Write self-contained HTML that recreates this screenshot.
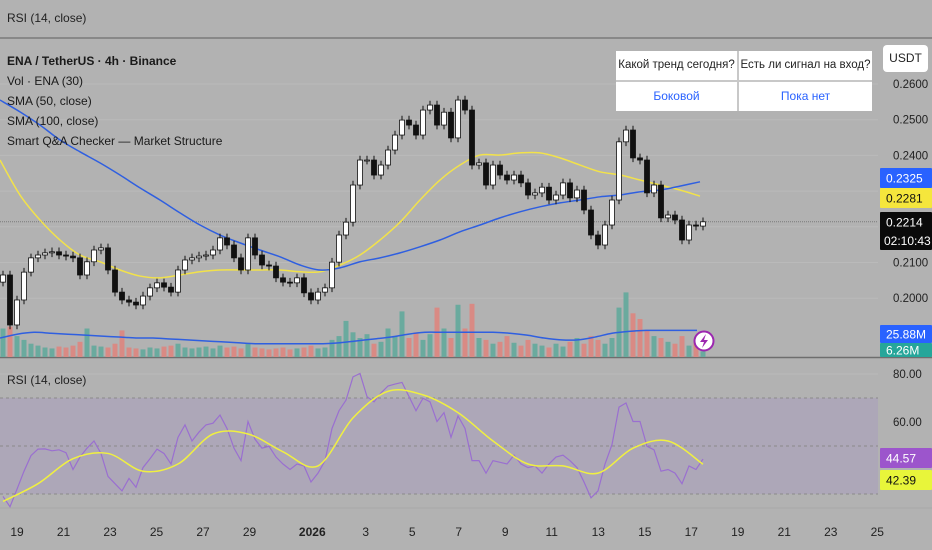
<!DOCTYPE html>
<html><head><meta charset="utf-8">
<style>
html,body{margin:0;padding:0;background:#b2b2b2;}
body{width:932px;height:550px;overflow:hidden;position:relative;font-family:"Liberation Sans","Noto Sans CJK SC",sans-serif;}
svg{position:absolute;left:0;top:0;}
.t{font-family:"Liberation Sans","Noto Sans CJK SC",sans-serif;}
</style></head>
<body>
<svg id="chart" width="932" height="550"></svg>
<script>
// ---- data ----
const closes=[0.2065,0.1925,0.1995,0.2073,0.2113,0.2121,0.2127,0.2130,0.2121,0.2118,0.2113,0.2065,0.2102,0.2135,0.2141,0.2079,0.2017,0.1995,0.1989,0.1981,0.2006,0.2029,0.2043,0.2031,0.2017,0.2079,0.2107,0.2113,0.2118,0.2121,0.2135,0.2169,0.2149,0.2113,0.2079,0.2169,0.2121,0.2093,0.2090,0.2057,0.2045,0.2043,0.2057,0.2015,0.1995,0.2017,0.2029,0.2101,0.2177,0.2213,0.2317,0.2387,0.2387,0.2345,0.2373,0.2415,0.2457,0.2499,0.2485,0.2457,0.2527,0.2541,0.2485,0.2521,0.2449,0.2555,0.2527,0.2373,0.2379,0.2317,0.2373,0.2345,0.2331,0.2345,0.2323,0.2289,0.2295,0.2311,0.2275,0.2289,0.2323,0.2281,0.2303,0.2247,0.2177,0.2149,0.2205,0.2275,0.2438,0.2471,0.2393,0.2387,0.2295,0.2317,0.2225,0.2233,0.2219,0.2163,0.2205,0.2202,0.2214];
const volumes=[30,32,22,18,14,12,10,9,11,10,12,16,30,12,11,10,14,28,10,9,8,10,9,11,12,14,10,9,10,11,9,12,10,11,9,14,10,9,8,9,10,8,9,10,12,9,10,18,22,38,26,20,24,14,16,30,22,48,20,26,18,24,52,30,20,55,30,56,20,18,14,16,22,15,12,18,14,12,10,14,11,16,20,14,22,18,14,20,52,68,46,40,28,22,20,16,14,22,12,16,6];
const sma50=[0.2387,0.2289,0.2219,0.2163,0.2121,0.2102,0.2079,0.2062,0.2057,0.2065,0.2074,0.2079,0.2079,0.2079,0.2079,0.2074,0.2074,0.2093,0.2121,0.2163,0.2213,0.2275,0.2331,0.2373,0.2401,0.2401,0.2407,0.2407,0.2393,0.2373,0.2354,0.2345,0.2331,0.2317,0.2303,0.2286];
const sma100=[0.2555,0.2522,0.2485,0.2443,0.2410,0.2379,0.2345,0.2309,0.2275,0.2239,0.2205,0.2177,0.2155,0.2135,0.2116,0.2093,0.2079,0.2085,0.2102,0.2113,0.2127,0.2144,0.2163,0.2186,0.2205,0.2225,0.2242,0.2256,0.2267,0.2275,0.2284,0.2289,0.2298,0.2303,0.2314,0.2326];
const volSma=[20,24,26,25,24,23,22,21,20,20,19,18,17,16,15,14,14,14,14,14,15,17,19,21,24,26,26,26,26,26,25,23,20,18,18,21,25,27,28,28,28,28];
const rsi=[29,24.7,32,39.5,46,48.7,48.8,48,48.4,47.2,40.2,45.4,49.1,52.1,46.9,37.3,34.3,31.3,36.5,32.8,41,44.7,48.7,46.9,42.5,53.6,58.8,52.1,55.8,58.8,59.5,62.9,57.3,49.1,43.9,60.2,52.8,49.1,49.9,45.4,42.5,40.2,42.5,41.7,35,38.7,43.9,57.3,64.7,69.1,78.8,80.2,70.6,68.4,72.1,75,75.8,76.5,70.6,64.7,69.9,68.4,60.2,63.9,53.6,62.5,57.3,43.9,43.9,38.7,43.9,43.2,42.5,46.2,42.5,41,41.7,38.7,42.5,45.4,46.2,43.9,41,35,28.4,31.3,42.5,50.6,66.2,67.9,60.2,60.2,49.9,48.4,39.5,40.2,38.7,34.3,41.7,40.2,44.57];
const rsiSignal=[26.9,34.3,44.7,46.9,39.5,42.5,55,55,47.6,41.7,61.7,72.8,71.3,63.9,52.1,42.5,41.7,38.7,49.1,52.1,42.39];
const priceTicks=[0.26,0.25,0.24,0.21,0.20];
const rsiTicks=[80,60];
const dateLabels=['19','21','23','25','27','29','2026','3','5','7','9','11','13','15','17','19','21','23','25'];
const dateDays=[0,2,4,6,8,10,12.7,15,17,19,21,23,25,27,29,31,33,35,37];

// ---- scales ----
const PLOT_R=878;
const xC=i=>3+7*i;
const yP=p=>84+(0.26-p)*3570;
const yV=v=>357-v*0.95;
const yR=v=>398+(70-v)*2.4;
const xD=d=>17+d*23.25;
const NS='http://www.w3.org/2000/svg';
const svg=document.getElementById('chart');
function mk(tag,attrs,parent){const e=document.createElementNS(NS,tag);for(const k in attrs)e.setAttribute(k,attrs[k]);(parent||svg).appendChild(e);return e;}
function smooth(pts){let d='M'+pts[0][0]+','+pts[0][1];for(let i=0;i<pts.length-1;i++){const p0=pts[i-1]||pts[i],p1=pts[i],p2=pts[i+1],p3=pts[i+2]||p2;d+=' C'+(p1[0]+(p2[0]-p0[0])/6)+','+(p1[1]+(p2[1]-p0[1])/6)+' '+(p2[0]-(p3[0]-p1[0])/6)+','+(p2[1]-(p3[1]-p1[1])/6)+' '+p2[0]+','+p2[1];}return d;}

// frame
let g=mk('g',{});


priceTicks.concat([0.23,0.22]).forEach(p=>mk('line',{x1:0,x2:PLOT_R,y1:yP(p),y2:yP(p),stroke:'#bababa','stroke-width':1},g));
mk('line',{x1:0,x2:PLOT_R,y1:yR(80),y2:yR(80),stroke:'#bababa'},g);
mk('line',{x1:0,x2:PLOT_R,y1:yR(60),y2:yR(60),stroke:'#bababa'},g);
mk('line',{x1:0,x2:932,y1:38,y2:38,stroke:'#7a7a7a','stroke-width':1.5});
mk('line',{x1:0,x2:932,y1:357.5,y2:357.5,stroke:'#6e6e6e','stroke-width':1.5});
mk('line',{x1:0,x2:932,y1:508,y2:508,stroke:'#a8a8a8','stroke-width':1});

let tt=mk('text',{x:7,y:22,'font-size':12,fill:'#222',class:'t'});tt.textContent='RSI (14, close)';



// volume
const vg=mk('g',{});


volumes.forEach((v,i)=>{const up=i===0?true:closes[i]>=closes[i-1];const b=mk('rect',{x:xC(i)-2.5,y:yV(v),width:5,height:357-yV(v),fill:up?'#6aaa9e':'#d98a84'},vg);

});
let vs=mk('path',{d:smooth(volSma.map((v,k)=>[k*17,yV(v)])),fill:'none',stroke:'#2f5fe0','stroke-width':1.5});



// current price line
let cp=mk('line',{x1:0,x2:PLOT_R,y1:yP(0.2214),y2:yP(0.2214),stroke:'#7b7b7b','stroke-width':1,'stroke-dasharray':'1,1'});



// SMAs
let s1=mk('path',{d:smooth(sma50.map((v,k)=>[k*20,yP(v)])),fill:'none',stroke:'#f2e24a','stroke-width':1.5});


let s2=mk('path',{d:smooth(sma100.map((v,k)=>[k*20,yP(v)])),fill:'none',stroke:'#2f5fe0','stroke-width':1.5});



// candles
const cg=mk('g',{});


closes.forEach((c,i)=>{const o=i===0?0.2045:closes[i-1];const hi=Math.max(o,c)+0.0012,lo=Math.min(o,c)-0.0012;const x=xC(i);
mk('line',{x1:x,x2:x,y1:yP(hi),y2:yP(lo),stroke:'#111','stroke-width':1},cg);
const top=yP(Math.max(o,c)),h=Math.max(1,yP(Math.min(o,c))-top);
const r=mk('rect',{x:x-2.5,y:top,width:5,height:h,fill:c>=o?'#ffffff':'#111',stroke:'#111','stroke-width':0.8},cg);

});

// RSI pane
let band=mk('rect',{x:0,y:yR(70),width:PLOT_R,height:yR(30)-yR(70),fill:'#ada7b8'});


[70,50,30].forEach(v=>mk('line',{x1:0,x2:PLOT_R,y1:yR(v),y2:yR(v),stroke:'#8a8a8a','stroke-dasharray':'3,3'}));
let rl=mk('polyline',{points:rsi.map((v,i)=>xC(i)+','+yR(v)).join(' '),fill:'none',stroke:'#9a6fd0','stroke-width':1.2});


let rsl=mk('path',{d:smooth(rsiSignal.map((v,k)=>[xC(k*5),yR(v)])),fill:'none',stroke:'#f0f040','stroke-width':1.5});


let rt=mk('text',{x:7,y:384,'font-size':12,fill:'#222',class:'t'});rt.textContent='RSI (14, close)';



// axes labels
priceTicks.forEach(p=>{const t=mk('text',{x:893,y:yP(p)+4,'font-size':11.5,fill:'#222',class:'t'});t.textContent=p.toFixed(4);

});
rsiTicks.forEach(v=>{const t=mk('text',{x:893,y:yR(v)+4,'font-size':11.5,fill:'#222',class:'t'});t.textContent=v.toFixed(2);

});
dateLabels.forEach((l,k)=>{const t=mk('text',{x:xD(dateDays[k]),y:536,'font-size':12,fill:'#222','text-anchor':'middle','font-weight':l==='2026'?'bold':'normal',class:'t'});t.textContent=l;

});

function badge(name,y,h,bg,fg,txt){const r=mk('rect',{x:880,y:y,width:52,height:h,fill:bg,rx:1});


const t=mk('text',{x:886,y:y+Math.min(h,20)/2+4.5,'font-size':12,fill:fg,class:'t'});t.textContent=txt;}
badge('sma-100-price-badge',168,20,'#2962ff','#fff','0.2325');
badge('sma-50-price-badge',188,20,'#f5e63c','#111','0.2281');
badge('last-price-badge',212,38,'#0a0a0a','#fff','0.2214');
let ct=mk('text',{x:884,y:245,'font-size':12,fill:'#fff',class:'t'});ct.textContent='02:10:43';


badge('volume-sma-badge',325,18,'#2962ff','#fff','25.88M');
badge('volume-badge',343,14,'#26a69a','#fff','6.26M');
badge('rsi-value-badge',448,20,'#9c55cc','#fff','44.57');
badge('rsi-signal-badge',470,20,'#e8f53a','#111','42.39');

// lightning icon
let lc=mk('circle',{cx:704,cy:341,r:9.5,fill:'#fff',stroke:'#9c27b0','stroke-width':2});


mk('path',{d:'M706,334 L700,342 L704,342 L702,348 L708,340 L704,340 Z',fill:'#9c27b0'});
</script>

<div style="position:absolute;left:7px;top:51px;font-size:12px;line-height:20px;color:#1a1a1a;">
<div style="font-weight:bold;">ENA / TetherUS · 4h · Binance</div>
<div>Vol · ENA (30)</div>
<div>SMA (50, close)</div>
<div>SMA (100, close)</div>
<div>Smart Q&amp;A Checker — Market Structure</div>
</div>

<div style="position:absolute;left:883px;top:45px;width:45px;height:27px;background:#fff;border-radius:4px;font-size:12px;line-height:27px;text-align:center;color:#222;">USDT</div>

<div style="position:absolute;left:616px;top:51px;width:256px;height:60px;background:#fff;font-size:11.5px;white-space:nowrap;">
<div style="position:absolute;left:0;top:0;width:121px;height:29px;line-height:29px;text-align:center;color:#222;">Какой тренд сегодня?</div>
<div style="position:absolute;left:123px;top:0;width:133px;height:29px;line-height:29px;text-align:center;color:#222;">Есть ли сигнал на вход?</div>
<div style="position:absolute;left:0;top:31px;width:121px;height:29px;line-height:29px;text-align:center;color:#2962ff;font-size:12px;">Боковой</div>
<div style="position:absolute;left:123px;top:31px;width:133px;height:29px;line-height:29px;text-align:center;color:#2962ff;font-size:12px;">Пока нет</div>
<div style="position:absolute;left:121px;top:0;width:2px;height:60px;background:#c8c8c8;"></div>
<div style="position:absolute;left:0;top:29px;width:256px;height:2px;background:#c8c8c8;"></div>
</div>
</body></html>
